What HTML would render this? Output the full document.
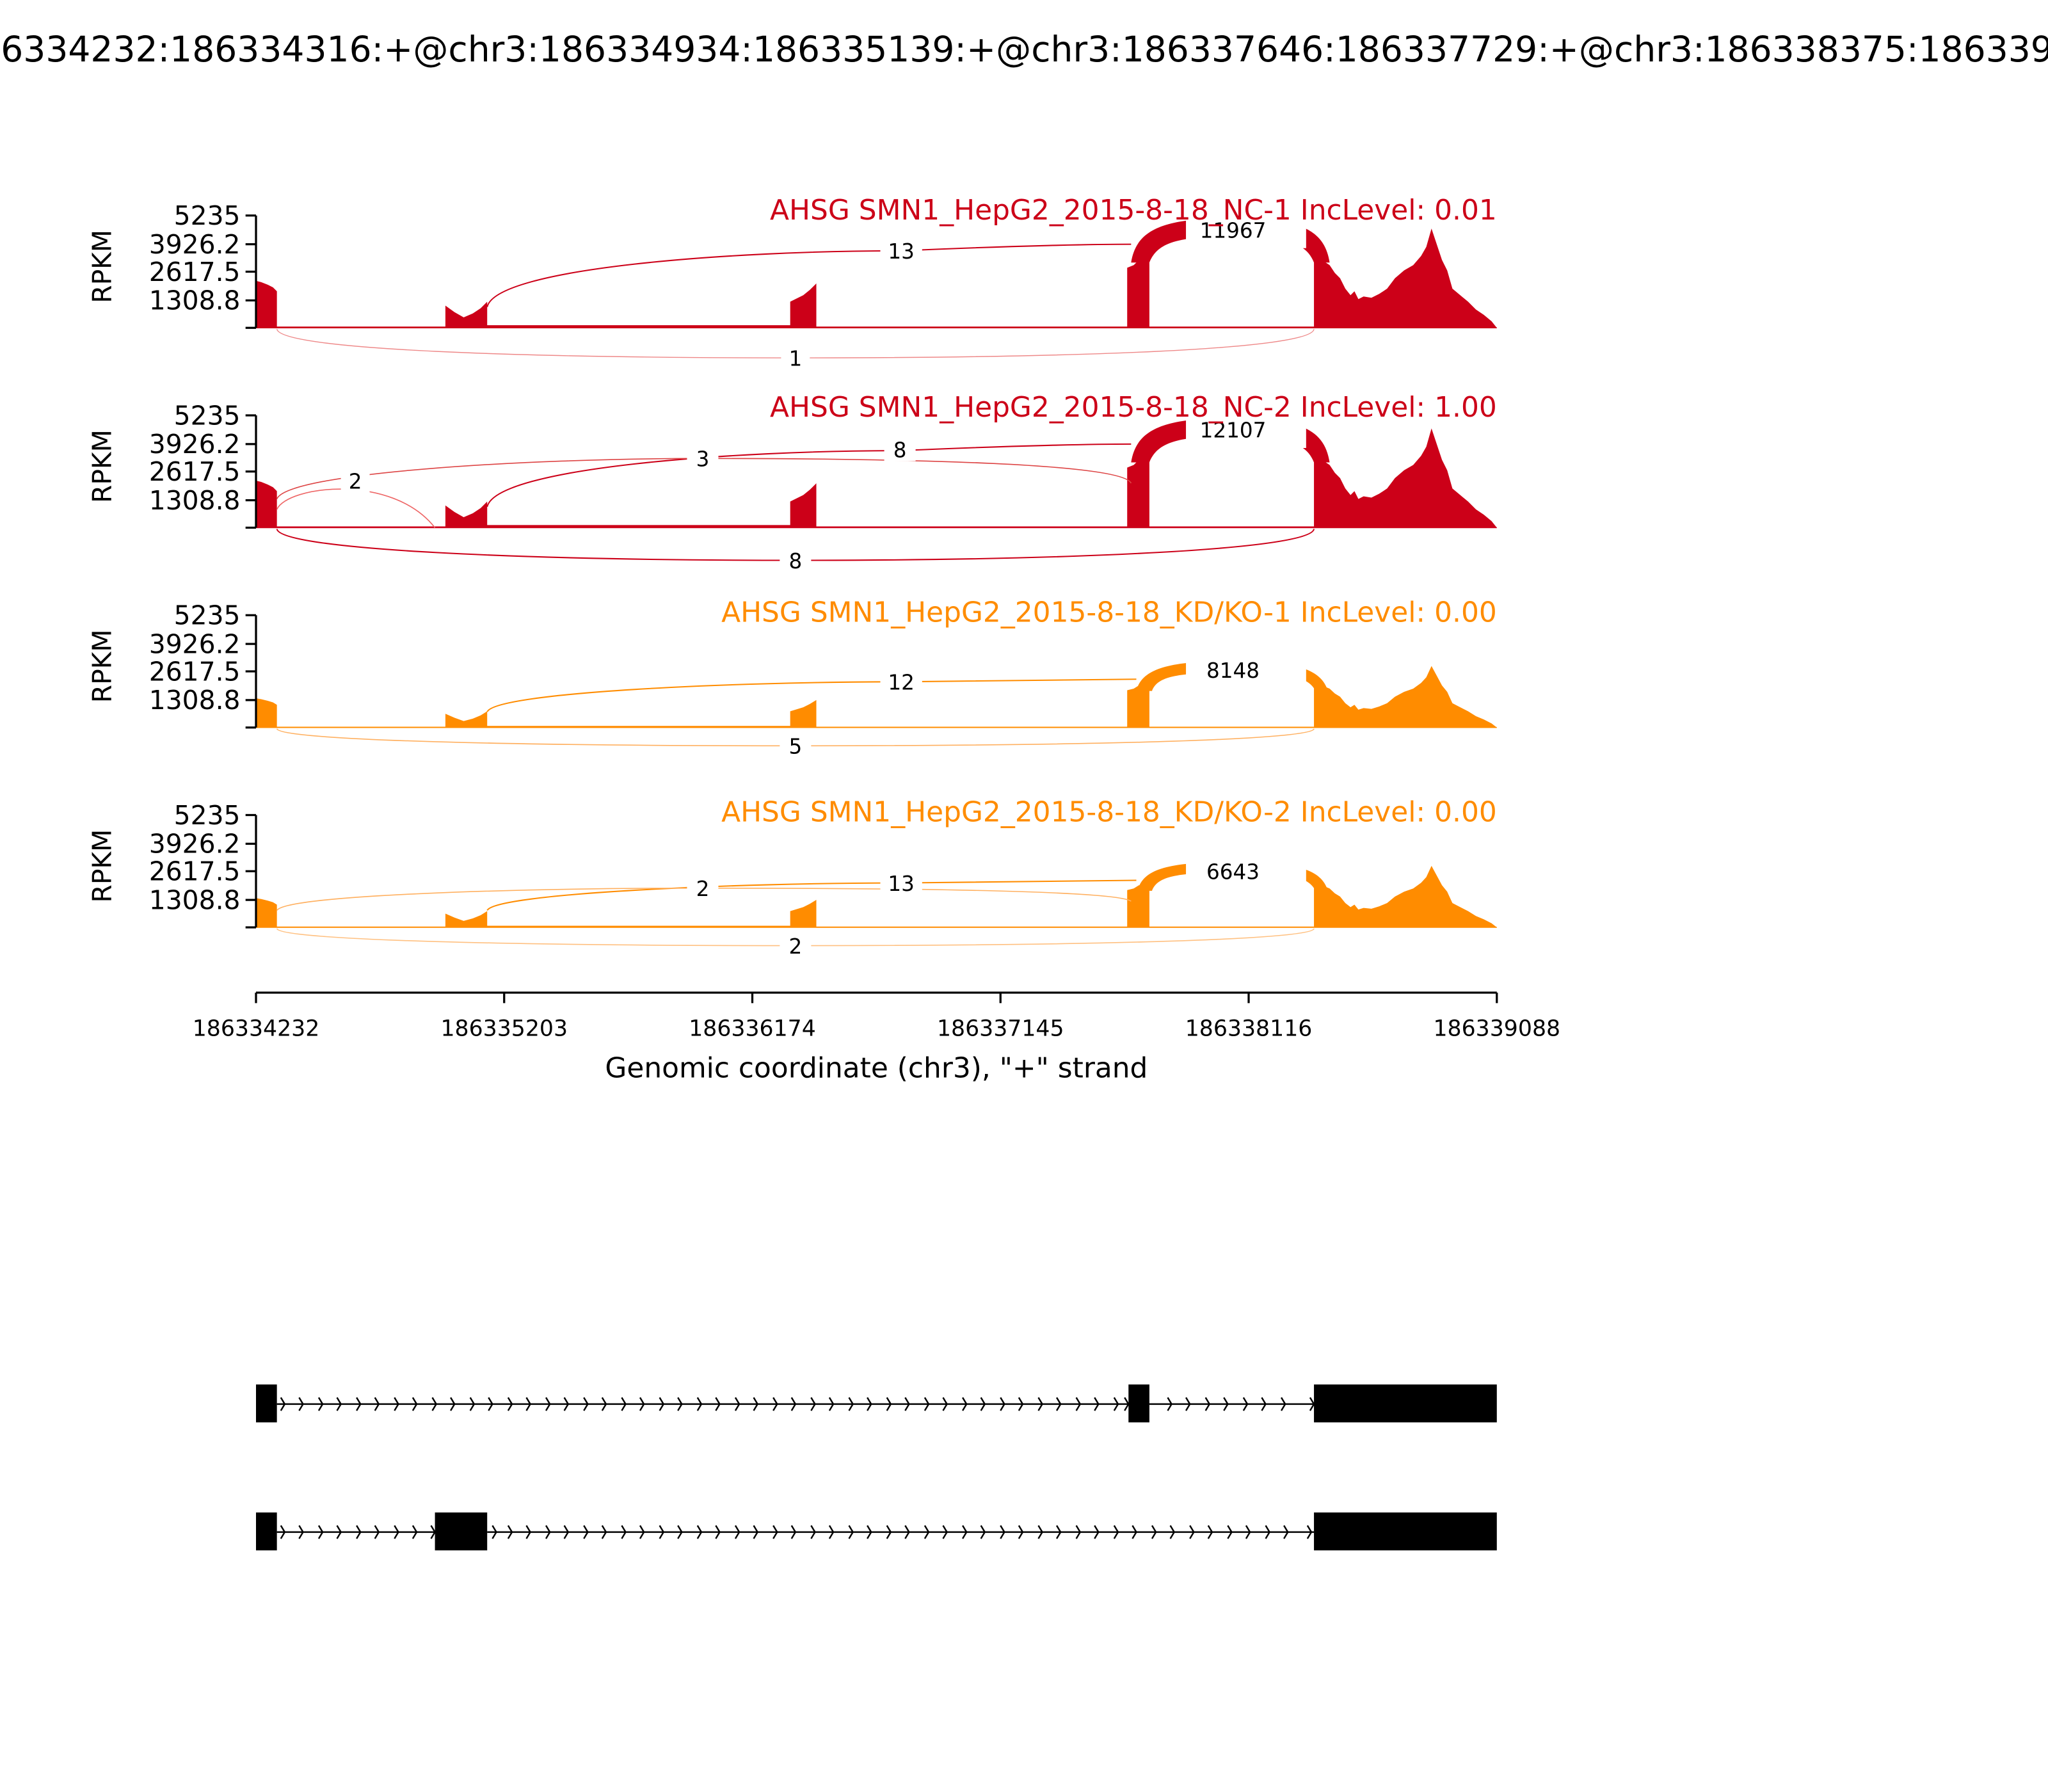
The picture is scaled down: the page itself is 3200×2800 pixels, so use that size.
<!DOCTYPE html>
<html><head><meta charset="utf-8"><style>html,body{margin:0;padding:0;background:#fff}svg{display:block}</style></head><body>
<svg width="3200" height="2800" viewBox="0 0 1568 1372" xmlns="http://www.w3.org/2000/svg" font-family="'DejaVu Sans','Liberation Sans',sans-serif">
<defs>
<path id="cov" d="M196,0 L196,-36 L200,-35 L205,-33 L209,-31 L212,-28 L212,-1 L341,-1 L341,-17 L348,-12 L355,-8 L362,-11 L368,-15 L373,-20 L373,-2 L605,-2 L605,-20 L615,-25 L620,-29 L625,-34 L625,-1 L863,-1 L863,-46 L868,-48 L872,-52 L880,-50 L880,-1 L1006,-1 L1006,-55 L1012,-52 L1018,-48 L1022,-42 L1026,-38 L1030,-30 L1034,-25 L1037,-28 L1040,-22 L1044,-24 L1050,-23 L1056,-26 L1062,-30 L1068,-38 L1075,-44 L1082,-48 L1088,-55 L1092,-62 L1096,-76 L1100,-64 L1104,-52 L1108,-44 L1112,-30 L1118,-25 L1124,-20 L1130,-14 L1136,-10 L1142,-5 L1146,0 Z"/>
</defs>
<text x="776" y="47" font-size="27" text-anchor="middle">chr3:186334232:186334316:+@chr3:186334934:186335139:+@chr3:186337646:186337729:+@chr3:186338375:186339088:+</text>

<g>
<use href="#cov" transform="translate(0,251)" fill="#cc0018"/>
<line x1="196" y1="251" x2="1146" y2="251" stroke="#cc0018" stroke-width="0.8"/>
<path d="M866,201 C870,176 890,167 943,167 C996,167 1014,176 1018,201 L1006,201 C1000,186 985,181 943,181 C901,181 886,186 880,201 Z" fill="#cc0018"/>
<path d="M373,235 C380,205 560,192 690,192 C780,188 840,187 866,187" fill="none" stroke="#cc0018" stroke-width="1"/>
<path d="M212,252 C215,268 400,274 609,274 C820,274 1004,268 1006,252" fill="none" stroke="#e88" stroke-width="0.7"/>
</g>
<g>
<use href="#cov" transform="translate(0,404)" fill="#cc0018"/>
<line x1="196" y1="404" x2="1146" y2="404" stroke="#cc0018" stroke-width="0.8"/>
<path d="M866,354 C870,329 890,320 943,320 C996,320 1014,329 1018,354 L1006,354 C1000,339 985,334 943,334 C901,334 886,339 880,354 Z" fill="#cc0018"/>
<path d="M373,388 C380,358 560,345 690,345 C780,341 840,340 866,340" fill="none" stroke="#cc0018" stroke-width="1"/>
<path d="M212,390 C220,372 300,362 333,404" fill="none" stroke="#e66" stroke-width="0.8"/>
<path d="M212,382 C220,362 400,351 538,351 C700,351 860,355 866,370" fill="none" stroke="#d44" stroke-width="0.8"/>
<path d="M212,405 C215,421 400,429 609,429 C820,429 1004,421 1006,405" fill="none" stroke="#cc0018" stroke-width="1"/>
</g>
<g>
<use href="#cov" transform="translate(0,557) scale(1,0.62)" fill="#ff8c00"/>
<line x1="196" y1="557" x2="1146" y2="557" stroke="#ff8c00" stroke-width="0.8"/>
<path d="M870,529 C874,512 895,506 943,506 C991,506 1010,512 1016,527 L1006,527 C1000,518 985,515 943,515 C901,515 886,518 882,529 Z" fill="#ff8c00"/>
<path d="M373,545 C380,530 560,522 690,522 C780,521 840,520 870,520" fill="none" stroke="#ff8c00" stroke-width="1"/>
<path d="M212,558 C215,567 400,571 609,571 C820,571 1004,567 1006,558" fill="none" stroke="#ffb060" stroke-width="0.8"/>
</g>
<g>
<use href="#cov" transform="translate(0,710) scale(1,0.62)" fill="#ff8c00"/>
<line x1="196" y1="710" x2="1146" y2="710" stroke="#ff8c00" stroke-width="0.8"/>
<path d="M871,682 C875,665 895,660 943,660 C991,660 1010,665 1016,680 L1006,680 C1000,671 985,668 943,668 C901,668 886,671 882,682 Z" fill="#ff8c00"/>
<path d="M373,697 C380,684 560,676 690,676 C780,675 840,674 870,674" fill="none" stroke="#ff8c00" stroke-width="1"/>
<path d="M212,697 C220,685 400,680 538,680 C700,680 855,682 866,690" fill="none" stroke="#ffb060" stroke-width="0.8"/>
<path d="M212,711 C215,720 400,724 609,724 C820,724 1004,720 1006,711" fill="none" stroke="#ffc080" stroke-width="0.8"/>
</g>

<g fill="#fff">
<rect x="908" y="160" width="92" height="30"/><rect x="908" y="313" width="92" height="30"/>
<rect x="908" y="500" width="92" height="22"/><rect x="908" y="654" width="92" height="22"/>
<rect x="674" y="183" width="32" height="18"/><rect x="598" y="265" width="22" height="18"/>
<rect x="261" y="359" width="22" height="18"/><rect x="526" y="342" width="24" height="18"/><rect x="677" y="335" width="24" height="18"/><rect x="597" y="420" width="24" height="18"/>
<rect x="674" y="513" width="32" height="18"/><rect x="597" y="562" width="24" height="18"/>
<rect x="526" y="671" width="24" height="18"/><rect x="674" y="667" width="32" height="18"/><rect x="597" y="715" width="24" height="18"/>
</g>
<g font-size="16" text-anchor="middle" fill="#000">
<text x="944" y="182">11967</text><text x="944" y="335">12107</text><text x="944" y="519">8148</text><text x="944" y="673">6643</text>
<text x="690" y="198">13</text><text x="609" y="280">1</text>
<text x="272" y="374">2</text><text x="538" y="357">3</text><text x="689" y="350">8</text><text x="609" y="435">8</text>
<text x="690" y="528">12</text><text x="609" y="577">5</text>
<text x="538" y="686">2</text><text x="690" y="682">13</text><text x="609" y="730">2</text>
</g>

<g stroke="#000" stroke-width="1.6" fill="none">
<path d="M196,165 V251 M188,165 H196 M188,187 H196 M188,208 H196 M188,230 H196 M188,251 H196"/>
<path d="M196,318 V404 M188,318 H196 M188,340 H196 M188,361 H196 M188,383 H196 M188,404 H196"/>
<path d="M196,471 V557 M188,471 H196 M188,493 H196 M188,514 H196 M188,536 H196 M188,557 H196"/>
<path d="M196,624 V710 M188,624 H196 M188,646 H196 M188,667 H196 M188,689 H196 M188,710 H196"/>
</g>
<g font-size="20" text-anchor="end" fill="#000">
<text x="184" y="172">5235</text><text x="184" y="194">3926.2</text><text x="184" y="215">2617.5</text><text x="184" y="237">1308.8</text>
<text x="184" y="325">5235</text><text x="184" y="347">3926.2</text><text x="184" y="368">2617.5</text><text x="184" y="390">1308.8</text>
<text x="184" y="478">5235</text><text x="184" y="500">3926.2</text><text x="184" y="521">2617.5</text><text x="184" y="543">1308.8</text>
<text x="184" y="631">5235</text><text x="184" y="653">3926.2</text><text x="184" y="674">2617.5</text><text x="184" y="696">1308.8</text>
</g>
<g font-size="20" text-anchor="middle" fill="#000">
<text transform="translate(85,204) rotate(-90)">RPKM</text>
<text transform="translate(85,357) rotate(-90)">RPKM</text>
<text transform="translate(85,510) rotate(-90)">RPKM</text>
<text transform="translate(85,663) rotate(-90)">RPKM</text>
</g>
<g font-size="21.5" text-anchor="end">
<text x="1146" y="168" fill="#cc0018">AHSG SMN1_HepG2_2015-8-18_NC-1 IncLevel: 0.01</text>
<text x="1146" y="319" fill="#cc0018">AHSG SMN1_HepG2_2015-8-18_NC-2 IncLevel: 1.00</text>
<text x="1146" y="476" fill="#ff8c00">AHSG SMN1_HepG2_2015-8-18_KD/KO-1 IncLevel: 0.00</text>
<text x="1146" y="629" fill="#ff8c00">AHSG SMN1_HepG2_2015-8-18_KD/KO-2 IncLevel: 0.00</text>
</g>

<g stroke="#000" stroke-width="1.6" fill="none">
<path d="M196,760 H1146 M196,760 V768 M386,760 V768 M576,760 V768 M766,760 V768 M956,760 V768 M1146,760 V768"/>
</g>
<g font-size="17" text-anchor="middle" fill="#000">
<text x="196" y="793">186334232</text><text x="386" y="793">186335203</text><text x="576" y="793">186336174</text>
<text x="766" y="793">186337145</text><text x="956" y="793">186338116</text><text x="1146" y="793">186339088</text>
</g>
<text x="671" y="825" font-size="21.5" text-anchor="middle">Genomic coordinate (chr3), "+" strand</text>

<g fill="#000">
<rect x="196" y="1060" width="16" height="29"/><rect x="864" y="1060" width="16" height="29"/><rect x="1006" y="1060" width="140" height="29"/>
<rect x="196" y="1158" width="16" height="29"/><rect x="333" y="1158" width="40" height="29"/><rect x="1006" y="1158" width="140" height="29"/>
</g>
<g stroke="#000" stroke-width="1.2" fill="none">
<path d="M212,1075 H864 M880,1075 H1006 M212,1173 H333 M373,1173 H1006"/>
<path d="M215,1070 L218,1075 L215,1080 M229,1070 L232,1075 L229,1080 M244,1070 L247,1075 L244,1080 M258,1070 L261,1075 L258,1080 M273,1070 L276,1075 L273,1080 M287,1070 L290,1075 L287,1080 M302,1070 L305,1075 L302,1080 M316,1070 L319,1075 L316,1080 M331,1070 L334,1075 L331,1080 M345,1070 L348,1075 L345,1080 M360,1070 L363,1075 L360,1080 M374,1070 L377,1075 L374,1080 M389,1070 L392,1075 L389,1080 M403,1070 L406,1075 L403,1080 M418,1070 L421,1075 L418,1080 M432,1070 L435,1075 L432,1080 M447,1070 L450,1075 L447,1080 M461,1070 L464,1075 L461,1080 M476,1070 L479,1075 L476,1080 M490,1070 L493,1075 L490,1080 M505,1070 L508,1075 L505,1080 M519,1070 L522,1075 L519,1080 M534,1070 L537,1075 L534,1080 M548,1070 L551,1075 L548,1080 M563,1070 L566,1075 L563,1080 M577,1070 L580,1075 L577,1080 M592,1070 L595,1075 L592,1080 M606,1070 L609,1075 L606,1080 M621,1070 L624,1075 L621,1080 M635,1070 L638,1075 L635,1080 M650,1070 L653,1075 L650,1080 M664,1070 L667,1075 L664,1080 M679,1070 L682,1075 L679,1080 M693,1070 L696,1075 L693,1080 M708,1070 L711,1075 L708,1080 M722,1070 L725,1075 L722,1080 M737,1070 L740,1075 L737,1080 M751,1070 L754,1075 L751,1080 M766,1070 L769,1075 L766,1080 M780,1070 L783,1075 L780,1080 M795,1070 L798,1075 L795,1080 M809,1070 L812,1075 L809,1080 M824,1070 L827,1075 L824,1080 M838,1070 L841,1075 L838,1080 M853,1070 L856,1075 L853,1080 M861,1070 L864,1075 L861,1080 M894,1070 L897,1075 L894,1080 M908,1070 L911,1075 L908,1080 M923,1070 L926,1075 L923,1080 M937,1070 L940,1075 L937,1080 M952,1070 L955,1075 L952,1080 M966,1070 L969,1075 L966,1080 M981,1070 L984,1075 L981,1080 M1003,1070 L1006,1075 L1003,1080"/>
<path d="M215,1168 L218,1173 L215,1178 M229,1168 L232,1173 L229,1178 M244,1168 L247,1173 L244,1178 M258,1168 L261,1173 L258,1178 M273,1168 L276,1173 L273,1178 M287,1168 L290,1173 L287,1178 M302,1168 L305,1173 L302,1178 M316,1168 L319,1173 L316,1178 M330,1168 L333,1173 L330,1178 M377,1168 L380,1173 L377,1178 M389,1168 L392,1173 L389,1178 M403,1168 L406,1173 L403,1178 M418,1168 L421,1173 L418,1178 M432,1168 L435,1173 L432,1178 M447,1168 L450,1173 L447,1178 M461,1168 L464,1173 L461,1178 M476,1168 L479,1173 L476,1178 M490,1168 L493,1173 L490,1178 M505,1168 L508,1173 L505,1178 M519,1168 L522,1173 L519,1178 M534,1168 L537,1173 L534,1178 M548,1168 L551,1173 L548,1178 M563,1168 L566,1173 L563,1178 M577,1168 L580,1173 L577,1178 M592,1168 L595,1173 L592,1178 M606,1168 L609,1173 L606,1178 M621,1168 L624,1173 L621,1178 M635,1168 L638,1173 L635,1178 M650,1168 L653,1173 L650,1178 M664,1168 L667,1173 L664,1178 M679,1168 L682,1173 L679,1178 M693,1168 L696,1173 L693,1178 M708,1168 L711,1173 L708,1178 M722,1168 L725,1173 L722,1178 M737,1168 L740,1173 L737,1178 M751,1168 L754,1173 L751,1178 M766,1168 L769,1173 L766,1178 M780,1168 L783,1173 L780,1178 M795,1168 L798,1173 L795,1178 M809,1168 L812,1173 L809,1178 M824,1168 L827,1173 L824,1178 M838,1168 L841,1173 L838,1178 M853,1168 L856,1173 L853,1178 M867,1168 L870,1173 L867,1178 M882,1168 L885,1173 L882,1178 M896,1168 L899,1173 L896,1178 M911,1168 L914,1173 L911,1178 M925,1168 L928,1173 L925,1178 M940,1168 L943,1173 L940,1178 M954,1168 L957,1173 L954,1178 M969,1168 L972,1173 L969,1178 M983,1168 L986,1173 L983,1178 M1001,1168 L1004,1173 L1001,1178"/>
</g>
</svg>
</body></html>
